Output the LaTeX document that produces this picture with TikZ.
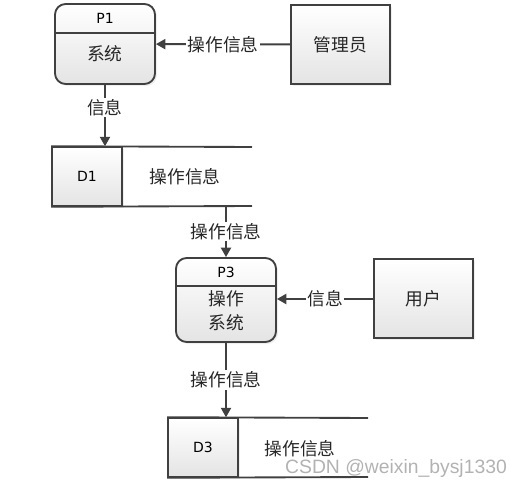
\documentclass[tikz,border=0pt]{standalone}
\usepackage{fontspec}
\setmainfont{DejaVu Sans}
\newfontfamily\cjk{Noto Sans CJK SC}
\newfontfamily\wmfont{Liberation Sans}
\usetikzlibrary{arrows.meta, shadows}
\definecolor{linegray}{HTML}{404040}
\definecolor{boxgray}{HTML}{E4E4E4}
\definecolor{textgray}{HTML}{262626}

\begin{document}
\begin{tikzpicture}[
  x=0.75pt, y=-0.75pt,
  font=\cjk\fontsize{13.3}{18}\selectfont, text=textgray,
  >={Triangle[length=7pt, width=7.5pt]},
  shade/.style={top color=white, bottom color=boxgray, drop shadow={shadow xshift=1.5pt, shadow yshift=-1.5pt, fill=black!12}},
  proc/.style={shade, draw=linegray, line width=1.4pt, rounded corners=8pt, minimum width=75pt},
  ext/.style={shade, draw=linegray, line width=1.4pt, minimum width=74pt, minimum height=59pt},
  idbox/.style={shade, draw=linegray, line width=1.4pt, minimum width=52.5pt, minimum height=44pt},
  tag/.style={font=\fontsize{10.5}{12}\selectfont, text=black},
  flow/.style={draw=linegray, line width=1.4pt, ->},
  store/.style={draw=linegray, line width=1.4pt},
  lbl/.style={fill=white, inner sep=1pt}
]
\useasboundingbox (0,0) rectangle (522,492);

% processes and external entities
\node[proc, minimum height=60pt] (p1) at (105,44) {};
\node[tag] (p1tag) at (105,18) {P1};
\node (p1txt) at (105,54) {系统};
\draw[store] (p1.west |- 0,33) -- (p1.east |- 0,33);

\node[ext] (mgr) at (340.5,44.5) {管理员};

\node[proc, minimum height=63pt] (p3) at (226,300) {};
\node[tag] (p3tag) at (226,272) {P3};
\node[align=center] (p3txt) at (226,311) {操作\\系统};
\draw[store] (p3.west |- 0,286) -- (p3.east |- 0,286);

\node[ext] (user) at (423.5,298.5) {用户};

% data stores
\node[idbox] (d1id) at (87,176.5) {};
\node[tag] at (d1id) {D1};
\coordinate (d1top) at (252,147);
\coordinate (d1bot) at (252,206);
\draw[store] (d1id.north west) -- (d1top);
\draw[store] (d1id.south west) -- (d1bot);
\node (d1txt) at (185,177) {操作信息};

\node[idbox] (d3id) at (203,447.5) {};
\node[tag] at (d3id) {D3};
\coordinate (d3top) at (368,418);
\coordinate (d3bot) at (368,477);
\draw[store] (d3id.north west) -- (d3top);
\draw[store] (d3id.south west) -- (d3bot);
\node (d3txt) at (300,449) {操作信息};

% flows
\draw[flow] (mgr) -- node[lbl] {操作信息} (p1);
\draw[flow] (p1.south) -- node[lbl, pos=0.37] {信息} (p1.south |- d1id.north);
\draw[flow] (p3.north |- d1bot) -- node[lbl] {操作信息} (p3.north);
\draw[flow] (user.west |- 0,299) -- node[lbl] {信息} (p3.east |- 0,299);
\draw[flow] (p3.south) -- node[lbl] {操作信息} (p3.south |- d3id.north);

\node[font=\wmfont\fontsize{14.5}{16}\selectfont, text=black!30] (wm) at (396,469) {CSDN @weixin\_bysj1330};
\end{tikzpicture}
\end{document}
